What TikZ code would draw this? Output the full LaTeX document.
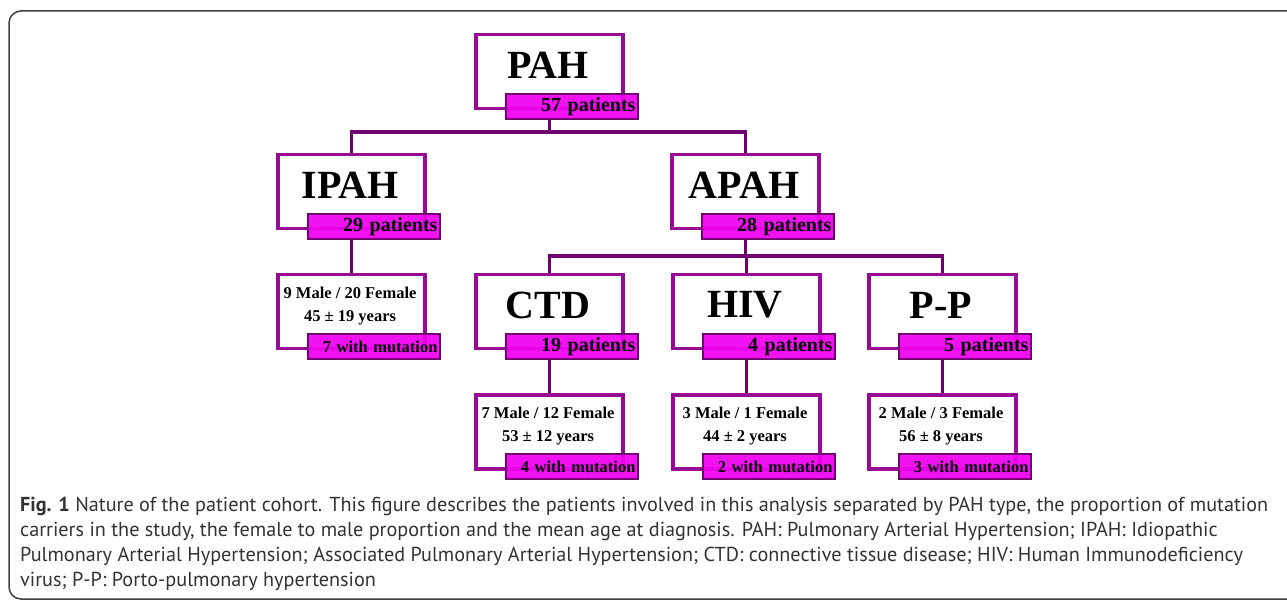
\documentclass[tikz,border=0pt]{standalone}
\usepackage{fontspec}
\setmainfont{Liberation Serif}
\newfontfamily\capfont{PT Sans}
\definecolor{boxpurple}{RGB}{150,10,150}
\definecolor{darkpurple}{RGB}{112,0,112}
\definecolor{labmag}{RGB}{240,0,240}
\definecolor{capgray}{RGB}{50,50,50}
\tikzset{
  mainbox/.style={draw=boxpurple, line width=3.5pt, fill=white, minimum width=147pt, minimum height=74pt, inner sep=0pt, anchor=north west},
  labbox/.style={draw=darkpurple, line width=2pt, fill=labmag, fill opacity=0.93, text opacity=1, minimum width=132pt, minimum height=25pt, text width=127pt, align=right, inner sep=0pt, anchor=north west, font=\bfseries\fontsize{20}{22}\selectfont},
  mutlab/.style={labbox, font=\bfseries\fontsize{16.5}{18}\selectfont},
  titletext/.style={font=\bfseries\fontsize{40}{42}\selectfont, inner sep=0pt},
  detailtext/.style={font=\bfseries\fontsize{16.5}{23}\selectfont, align=center, inner sep=0pt},
  conn/.style={draw=darkpurple, line width=3.5pt},
  captext/.style={font=\capfont\fontsize{20.2}{22}\selectfont, text=capgray, anchor=base west, inner sep=0pt},
}
\newcommand\titleunit[6]{%
  \node[mainbox] (#1) at (#2,#3) {};
  \node[titletext] (#1t) at (#2+74,#3+32) {#4};
  \node[#6] (#1l) at (#2+31,#3+60) {#5};
}
\newcommand\detailunit[6]{%
  \node[mainbox] (#1) at (#2,#3) {};
  \node[detailtext] (#1t) at (#2+74,#3+33) {#4};
  \node[mutlab] (#1l) at (#2+31,#3+60) {#5};
}
\begin{document}
\begin{tikzpicture}[x=1pt,y=-1pt]
\useasboundingbox (0,0) rectangle (1287,601);
\draw[draw=black!75, line width=1.5pt, rounded corners=12pt] (9,11) rectangle (1310,599);
% units
\titleunit{pah}{474}{33}{PAH}{57 patients}{labbox}
\titleunit{ipah}{276}{153}{IPAH}{29 patients}{labbox}
\titleunit{apah}{670}{153}{APAH}{28 patients}{labbox}
\titleunit{ctd}{474}{273}{CTD}{19 patients}{labbox}
\titleunit{hiv}{671}{273}{HIV}{4 patients}{labbox}
\titleunit{pp}{867}{273}{P-P}{5 patients}{labbox}
\detailunit{ipahd}{276}{273}{9 Male / 20 Female\\45 ± 19 years}{7 with mutation}{}
\detailunit{ctdd}{474}{393}{7 Male / 12 Female\\53 ± 12 years}{4 with mutation}{}
\detailunit{hivd}{671}{393}{3 Male / 1 Female\\44 ± 2 years}{2 with mutation}{}
\detailunit{ppd}{867}{393}{2 Male / 3 Female\\56 ± 8 years}{3 with mutation}{}
% connectors
\draw[conn] (pah.south |- pahl.south) -- ++(0,12) -| (ipah.north);
\draw[conn] (pah.south |- pahl.south) -- ++(0,12) -| (apah.north);
\draw[conn] (apah.south |- apahl.south) -- ++(0,16) -| (ctd.north);
\draw[conn] (apah.south |- apahl.south) -- ++(0,16) -| (hiv.north);
\draw[conn] (apah.south |- apahl.south) -- ++(0,16) -| (pp.north);
\draw[conn] (ipah.south |- ipahl.south) -- (ipahd.north);
\draw[conn] (ctd.south |- ctdl.south) -- (ctdd.north);
\draw[conn] (hiv.south |- hivl.south) -- (hivd.north);
\draw[conn] (pp.south |- ppl.south) -- (ppd.north);
% caption
\node[captext] (cap1) at (20,511) {\textbf{Fig. 1} Nature of the patient cohort. This figure describes the patients involved in this analysis separated by PAH type, the proportion of mutation};
\node[captext] (cap2) at (20,536) {carriers in the study, the female to male proportion and the mean age at diagnosis. PAH: Pulmonary Arterial Hypertension; IPAH: Idiopathic};
\node[captext] (cap3) at (20,561) {Pulmonary Arterial Hypertension; Associated Pulmonary Arterial Hypertension; CTD: connective tissue disease; HIV: Human Immunodeficiency};
\node[captext] (cap4) at (20,586) {virus; P-P: Porto-pulmonary hypertension};
\end{tikzpicture}
\end{document}
